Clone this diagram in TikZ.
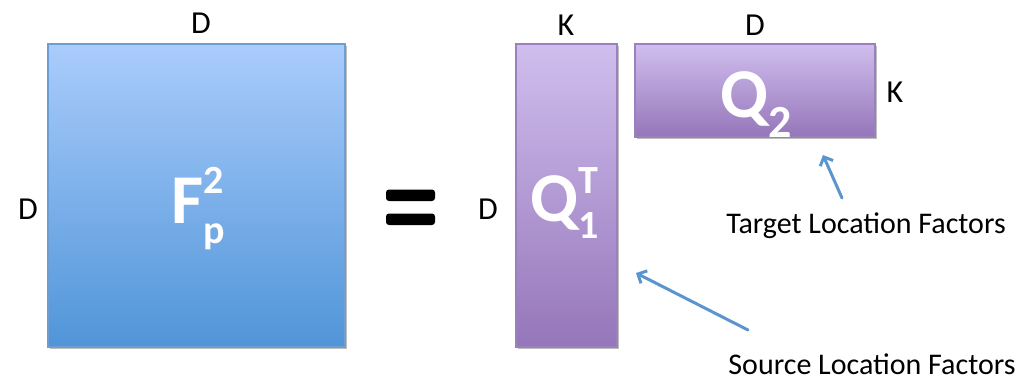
\documentclass[tikz,border=0pt]{standalone}
\usepackage{fontspec}
\setmainfont{Carlito}
\usetikzlibrary{shadows,arrows.meta}
\definecolor{blueTop}{HTML}{AACCFC}
\definecolor{blueBot}{HTML}{5095D8}
\definecolor{blueEdge}{HTML}{6C9DD3}
\definecolor{purTop}{HTML}{D0BEEE}
\definecolor{purBot}{HTML}{9576B9}
\definecolor{purEdge}{HTML}{9A80BF}
\definecolor{arrowBlue}{HTML}{5B95CF}
\tikzset{
  mat/.style={rectangle, draw, line width=1.5pt, inner sep=0pt,
    drop shadow={shadow xshift=1.5pt, shadow yshift=-2pt, opacity=0.25, fill=black}},
  bluemat/.style={mat, draw=blueEdge, top color=blueTop, bottom color=blueBot},
  purmat/.style={mat, draw=purEdge, top color=purTop, bottom color=purBot},
  dimlab/.style={font=\fontsize{32}{34}\selectfont, text=black, inner sep=0pt},
  annot/.style={font=\fontsize{30}{32}\selectfont, text=black, inner sep=0pt, anchor=base},
  bigtxt/.style={text=white, inner sep=0pt, anchor=base, font=\bfseries\fontsize{70}{72}\selectfont},
  arr/.style={draw=arrowBlue, line width=3pt, line cap=round, -{Straight Barb[length=7pt,width=14pt]}},
  eqbar/.style={fill=black, rounded corners=3pt}
}
\newcommand{\scr}[1]{{\fontsize{40}{40}\selectfont #1}}
\begin{document}
\begin{tikzpicture}[x=1pt,y=-1pt]
\useasboundingbox (0,0) rectangle (1034,381);
% matrices
\node[bluemat, minimum width=297pt, minimum height=303pt] (F) at (196.5,195.5) {};
\node[purmat, minimum width=101pt, minimum height=303pt] (Q1) at (566.5,195.5) {};
\node[purmat, minimum width=240pt, minimum height=93pt] (Q2) at (755,90.5) {};
% matrix names
\node[bigtxt] (Ftxt) at (198,223)
  {F\rlap{\raisebox{30pt}{\scr{2}}}\raisebox{-20pt}{\scr{p}}};
\node[bigtxt] (Q1txt) at (565,221)
  {Q\rlap{\raisebox{28pt}{\scr{T}}}\raisebox{-17pt}{\scr{1}}};
\node[bigtxt] (Q2txt) at (756,117)
  {Q\raisebox{-20pt}{{\fontsize{46}{46}\selectfont 2}}};
% dimension labels
\node[dimlab] (dF1) at (201,23) {D};
\node[dimlab] (dF2) at (28,209) {D};
\node[dimlab] (dQ1a) at (488,209) {D};
\node[dimlab] (kQ1) at (566,25) {K};
\node[dimlab] (dQ2) at (755,25) {D};
\node[dimlab] (kQ2) at (895,92) {K};
% equals sign
\fill[eqbar] (386,189.5) rectangle (435,201);
\fill[eqbar] (386,213.5) rectangle (435,225);
\node[inner sep=0pt] (eq) at (410,207) {};
% annotations
\node[annot] (tlf) at (866,233) {Target Location Factors};
\node[annot] (slf) at (872,374) {Source Location Factors};
\coordinate (ta) at (842,198);
\coordinate (th) at (823,155);
\coordinate (sa) at (748,330);
\coordinate (sh) at (636,273);
\draw[arr] (ta) -- (th);
\draw[arr] (sa) -- (sh);
\end{tikzpicture}
\end{document}
